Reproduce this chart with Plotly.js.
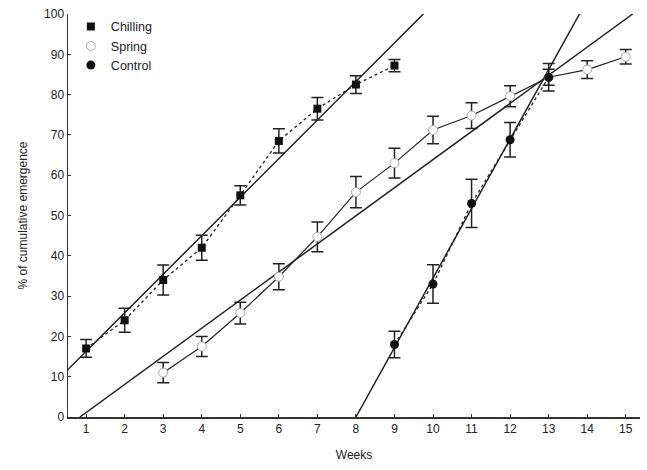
<!DOCTYPE html>
<html>
<head>
<meta charset="utf-8">
<script src="https://cdn.plot.ly/plotly-3.0.1.min.js"></script>
<style>html,body{margin:0;padding:0;background:#fff;}#chart{width:647px;height:470px;}</style>
</head>
<body>
<div id="chart"></div>
<script>
// Data
const chillingWeeks = [1, 2, 3, 4, 5, 6, 7, 8, 9];
const chillingValues = [17, 24, 34, 42, 55, 68.5, 76.5, 82.5, 87.2];
const chillingErrors = [2.2, 3, 3.7, 3.1, 2.4, 3, 2.8, 2.2, 1.5];

const springWeeks = [3, 4, 5, 6, 7, 8, 9, 10, 11, 12, 13, 14, 15];
const springValues = [11, 17.5, 25.8, 34.8, 44.7, 55.8, 63, 71.2, 74.8, 79.6, 84.3, 86.2, 89.4];
const springErrors = [2.5, 2.5, 2.7, 3.2, 3.7, 3.9, 3.7, 3.4, 3.2, 2.6, 2.0, 2.2, 1.8];

const controlWeeks = [9, 10, 11, 12, 13];
const controlValues = [18, 33, 53, 68.8, 84.3];
const controlErrors = [3.3, 4.8, 6, 4.3, 3.4];

// Fitted regression lines (end points)
const chillingFitX = [0.5, 9.75];
const chillingFitY = [11.5, 100];
const springFitX = [0.84, 15.18];
const springFitY = [0, 100];
const controlFitX = [8, 13.8];
const controlFitY = [0, 100];

const ink = '#222';
const fitLine = {color: ink, width: 1.5};

const traces = [
  {x: chillingFitX, y: chillingFitY, mode: 'lines', line: fitLine, showlegend: false, hoverinfo: 'skip'},
  {x: springFitX, y: springFitY, mode: 'lines', line: fitLine, showlegend: false, hoverinfo: 'skip'},
  {x: controlFitX, y: controlFitY, mode: 'lines', line: fitLine, showlegend: false, hoverinfo: 'skip'},
  {x: chillingWeeks, y: chillingValues, mode: 'lines', line: {color: ink, width: 1.3, dash: 'dot'}, showlegend: false, hoverinfo: 'skip'},
  {x: springWeeks, y: springValues, mode: 'lines', line: {color: ink, width: 1.2}, showlegend: false, hoverinfo: 'skip'},
  {x: controlWeeks, y: controlValues, mode: 'lines', line: {color: ink, width: 1.3, dash: 'dot'}, showlegend: false, hoverinfo: 'skip'},
  {x: chillingWeeks, y: chillingValues, name: 'Chilling', mode: 'markers',
   marker: {symbol: 'square', size: 8, color: '#111'},
   error_y: {type: 'data', array: chillingErrors, visible: true, color: ink, thickness: 1.5, width: 6}},
  {x: springWeeks, y: springValues, name: 'Spring', mode: 'markers',
   marker: {symbol: 'circle', size: 9, color: '#fff', line: {color: '#aaa', width: 1}},
   error_y: {type: 'data', array: springErrors, visible: true, color: ink, thickness: 1.5, width: 6}},
  {x: controlWeeks, y: controlValues, name: 'Control', mode: 'markers',
   marker: {symbol: 'circle', size: 9, color: '#111'},
   error_y: {type: 'data', array: controlErrors, visible: true, color: ink, thickness: 1.5, width: 6}}
];

const layout = {
  width: 647, height: 470,
  margin: {l: 68, r: 7, t: 14, b: 53},
  paper_bgcolor: '#fff', plot_bgcolor: '#fff',
  font: {family: '"Liberation Sans", Arial, sans-serif', size: 12, color: ink},
  showlegend: true,
  legend: {x: 0.005, y: 1.005, xanchor: 'left', yanchor: 'top', bgcolor: 'rgba(0,0,0,0)', font: {size: 12.5}, tracegroupgap: 0},
  xaxis: {
    range: [0.53, 15.37], tickmode: 'array', tickvals: [1,2,3,4,5,6,7,8,9,10,11,12,13,14,15],
    showgrid: false, zeroline: false, showline: true, linecolor: '#333', linewidth: 1.5,
    ticks: 'inside', ticklen: 3, tickcolor: '#333', tickwidth: 1,
    title: {text: 'Weeks', font: {size: 12}, standoff: 15}
  },
  yaxis: {
    range: [0, 100], tickmode: 'array', tickvals: [0,10,20,30,40,50,60,70,80,90,100],
    showgrid: false, zeroline: false, showline: true, linecolor: '#333', linewidth: 1.5,
    ticks: 'inside', ticklen: 3, tickcolor: '#333', tickwidth: 1,
    title: {text: '% of cumulative emergence', font: {size: 12}, standoff: 14}
  }
};

Plotly.newPlot('chart', traces, layout, {displayModeBar: false, staticPlot: true});
</script>
</body>
</html>
